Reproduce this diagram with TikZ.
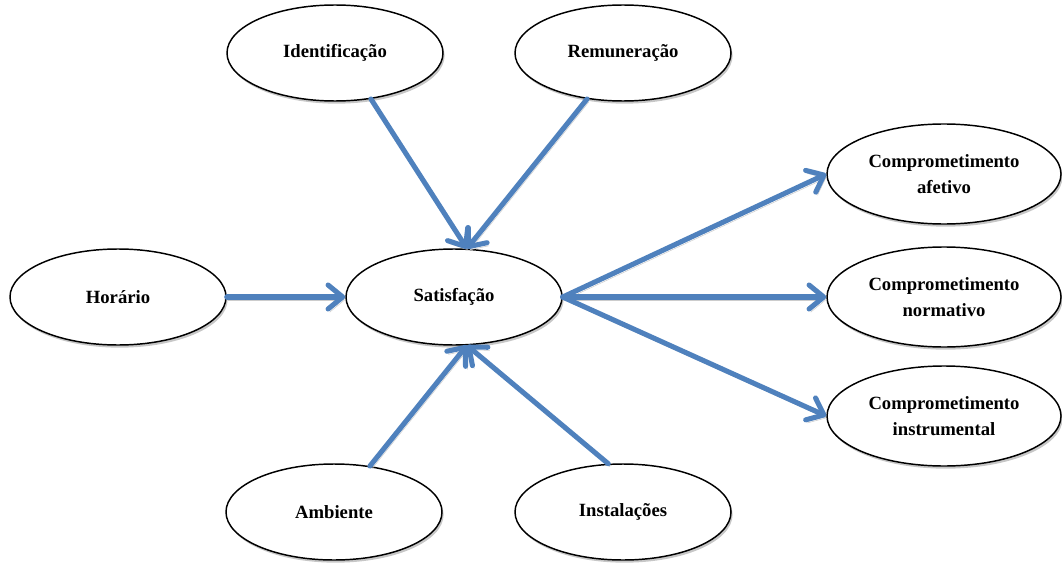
\documentclass[tikz,border=0pt]{standalone}
\usepackage{fontspec}
\setmainfont{Liberation Serif}
\usetikzlibrary{arrows.meta,shadows,shapes.geometric}
\definecolor{arrowblue}{RGB}{79,129,189}
\begin{document}
\begin{tikzpicture}[x=0.75pt,y=-0.75pt,
  bubble/.style={ellipse, draw=black, line width=1.1pt, fill=white,
    minimum width=162pt, minimum height=72pt, inner sep=0pt, align=center,
    font=\bfseries\fontsize{14}{19}\selectfont,
    drop shadow={shadow xshift=1.2pt, shadow yshift=-2pt, fill=black!22, opacity=1}},
  widebubble/.style={bubble, minimum width=175.5pt, minimum height=75pt},
  link/.style={draw=arrowblue, line width=3.8pt, line cap=round,
    -{Straight Barb[length=11pt,width=18pt,round]},
    preaction={draw=black!20, transform canvas={shift={(1.3pt,-2.3pt)}}}}]
\useasboundingbox (0,0) rectangle (1062,563);

\node[bubble] (id)  at (335,53)  {Identificação};
\node[bubble] (rem) at (623,53)  {Remuneração};
\node[bubble] (hor) at (118,297) {Horário};
\node[bubble] (sat) at (454,297) {Satisfação};
\node[bubble] (amb) at (334,512) {Ambiente};
\node[bubble] (ins) at (623,512) {Instalações};
\node[widebubble] (afe) at (944,174) {Comprometimento\\afetivo};
\node[widebubble] (nor) at (944,297) {Comprometimento\\normativo};
\node[widebubble] (inst) at (944,416) {Comprometimento\\instrumental};

\draw[link] (id.-52) -- (sat.75);
\draw[link] (rem.232) -- (sat.75);
\draw[link] (amb.52) -- (sat.-75);
\draw[link] (ins.107) -- (sat.-75);
\draw[link] (hor.east) -- (sat.west);
\draw[link] (sat.east) -- (afe.west);
\draw[link] (sat.east) -- (nor.west);
\draw[link] (sat.east) -- (inst.west);
\end{tikzpicture}
\end{document}
